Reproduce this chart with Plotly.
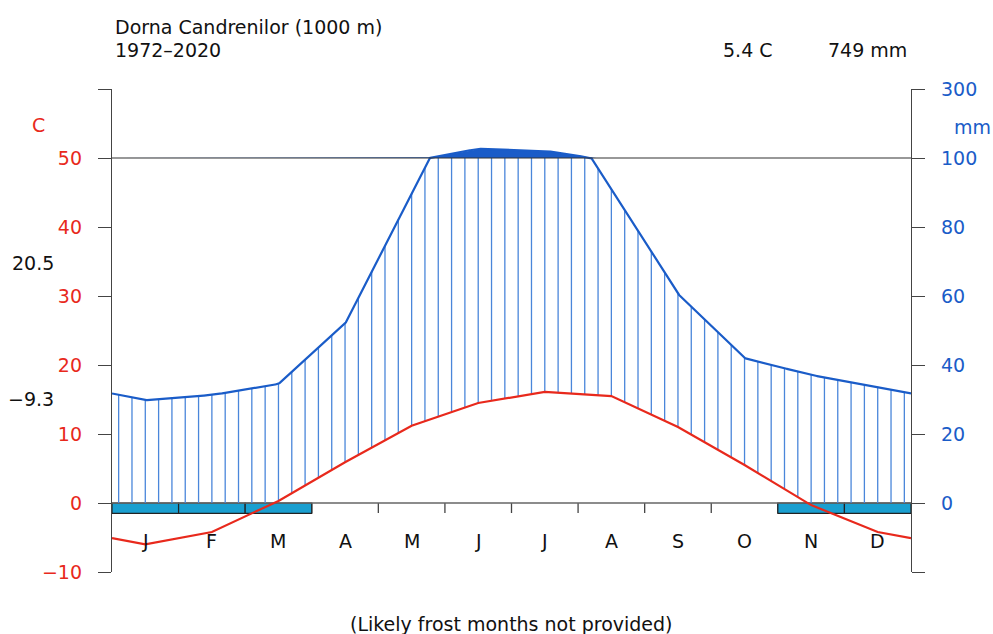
import numpy as np
import plotly.graph_objects as go

# ---------------- data ----------------
months = ["J", "F", "M", "A", "M", "J", "J", "A", "S", "O", "N", "D"]
temp = [-6.0, -4.2, 0.3, 5.9, 11.2, 14.5, 16.1, 15.5, 11.0, 5.5, -0.3, -4.2]      # deg C
prec = [29.8, 31.3, 34.5, 51.9, 89.8, 127.0, 121.0, 91.0, 60.6, 42.0, 37.1, 33.7]  # mm
frost_sure = [1, 1, 1, 0, 0, 0, 0, 0, 0, 0, 1, 1]
temp_tickvals = [-10, 0, 10, 20, 30, 40, 50, 60]
temp_ticktext = ["\u221210", "0", "10", "20", "30", "40", "50", ""]
prec_ticktext = ["", "0", "20", "40", "60", "80", "100", "300"]
station = "Dorna Candrenilor (1000 m)"
period = "1972\u20132020"
annual_t = "5.4 C"
annual_p = "749 mm"
tmax_warm = "20.5"
tmin_cold = "\u22129.3"
note = "(Likely frost months not provided)"

# ---------------- style ----------------
FONT = "DejaVu Sans"
FS = 19
TCOL = "#e8291c"
PCOL = "#1a5cc8"
HCOL = "#4a86da"
SFCOL = "#1a9fd0"
AXCOL = "#444444"

W, H = 993, 634
L, R, T, B = 112, 82, 89, 62


def px(xp):
    return (xp - L) / (W - L - R)


def py(yp):
    return (H - B - yp) / (H - T - B)


def p2y(p):
    p = np.asarray(p, dtype=float)
    return np.where(p <= 100, p / 2.0, 50 + (p - 100) / 20.0)


# curve nodes: month midpoints plus edges (mean of Dec and Jan)
xc = np.concatenate([[0.0], np.arange(12) + 0.5, [12.0]])
tc = np.concatenate([[(temp[0] + temp[-1]) / 2], temp, [(temp[0] + temp[-1]) / 2]])
pc = np.concatenate([[(prec[0] + prec[-1]) / 2], prec, [(prec[0] + prec[-1]) / 2]])

xf = np.linspace(0, 12, 2401)
pf = np.interp(xf, xc, pc)
yf = p2y(pf)

fig = go.Figure()

# dark fill above 100 mm
yfill = np.maximum(yf, 50)
fig.add_trace(go.Scatter(
    x=np.concatenate([xf, xf[::-1]]),
    y=np.concatenate([yfill, np.full(len(xf), 50.0)]),
    fill="toself", fillcolor=PCOL, line=dict(width=0), mode="lines",
    hoverinfo="skip", yaxis="y2"))

# hatching (humid period)
xh = 0.1 + 0.2 * np.arange(60)
th = np.interp(xh, xc, tc)
ph = p2y(np.interp(xh, xc, pc))
hx, hy = [], []
for x, t, p in zip(xh, th, ph):
    lo, hi = max(t, 0.0), min(p, 50.0)
    if hi > lo:
        hx += [x, x, None]
        hy += [lo, hi, None]
fig.add_trace(go.Scatter(x=hx, y=hy, mode="lines",
                         line=dict(color=HCOL, width=1.3), hoverinfo="skip"))

# precipitation curve
fig.add_trace(go.Scatter(x=xf, y=yf, mode="lines",
                         line=dict(color=PCOL, width=2.2), yaxis="y2"))
# temperature curve
fig.add_trace(go.Scatter(x=xc, y=tc, mode="lines",
                         line=dict(color=TCOL, width=2.2)))

shapes = []
# month ticks below zero line
for i in range(1, 12):
    shapes.append(dict(type="line", xref="x", yref="y", x0=i, x1=i, y0=0, y1=-1.45,
                       line=dict(color=AXCOL, width=1.3), layer="below"))
# frost boxes (under the curves)
for i, f in enumerate(frost_sure):
    if f:
        shapes.append(dict(type="rect", xref="x", yref="y", x0=i, x1=i + 1, y0=-1.5, y1=0,
                           fillcolor=SFCOL, line=dict(color="#222222", width=1.2),
                           layer="below"))
# zero line
shapes.append(dict(type="line", xref="x", yref="y", x0=0, x1=12, y0=0, y1=0,
                   line=dict(color="#666666", width=1.3), layer="below"))
# 100 mm line
shapes.append(dict(type="line", xref="x", yref="y", x0=0, x1=12, y0=50, y1=50,
                   line=dict(color="#333333", width=1.2), layer="above"))

ann = []


def txt(text, x, y, color="#111111", xanchor="center", xref="paper", yref="paper", size=FS):
    ann.append(dict(text=text, x=x, y=y, xref=xref, yref=yref, xanchor=xanchor,
                    yanchor="middle", showarrow=False,
                    font=dict(family=FONT, size=size, color=color)))


txt(station, px(113), py(27), xanchor="left")
txt(period, px(113), py(50), xanchor="left")
txt(annual_t, px(748), py(50))
txt(annual_p, px(909), py(50), xanchor="right")
txt("C", px(38), py(125), color=TCOL)
txt("mm", px(972), py(127), color=PCOL)
txt(tmax_warm, px(56), py(263), xanchor="right")
txt(tmin_cold, px(56), py(399), xanchor="right")
for i, m in enumerate(months):
    txt(m, i + 0.5, py(541), xref="x")
txt(note, 0.5, py(624))

axis_common = dict(range=[-10, 60], tickmode="array", tickvals=temp_tickvals,
                   ticks="outside", ticklen=13, tickwidth=1.4, tickcolor=AXCOL,
                   showline=True, linecolor=AXCOL, linewidth=1.4, showgrid=False,
                   zeroline=False, fixedrange=True, ticklabelstandoff=12)

fig.update_layout(
    width=W, height=H,
    margin=dict(l=L, r=R, t=T, b=B, pad=0),
    paper_bgcolor="white", plot_bgcolor="white",
    showlegend=False,
    font=dict(family=FONT, size=FS),
    xaxis=dict(range=[0, 12], visible=False, fixedrange=True),
    yaxis=dict(ticktext=temp_ticktext, side="left",
               tickfont=dict(family=FONT, size=FS, color=TCOL), **axis_common),
    yaxis2=dict(ticktext=prec_ticktext, side="right", overlaying="y",
                tickfont=dict(family=FONT, size=FS, color=PCOL), **axis_common),
    shapes=shapes,
    annotations=ann,
)

fig.write_html("out.html")
